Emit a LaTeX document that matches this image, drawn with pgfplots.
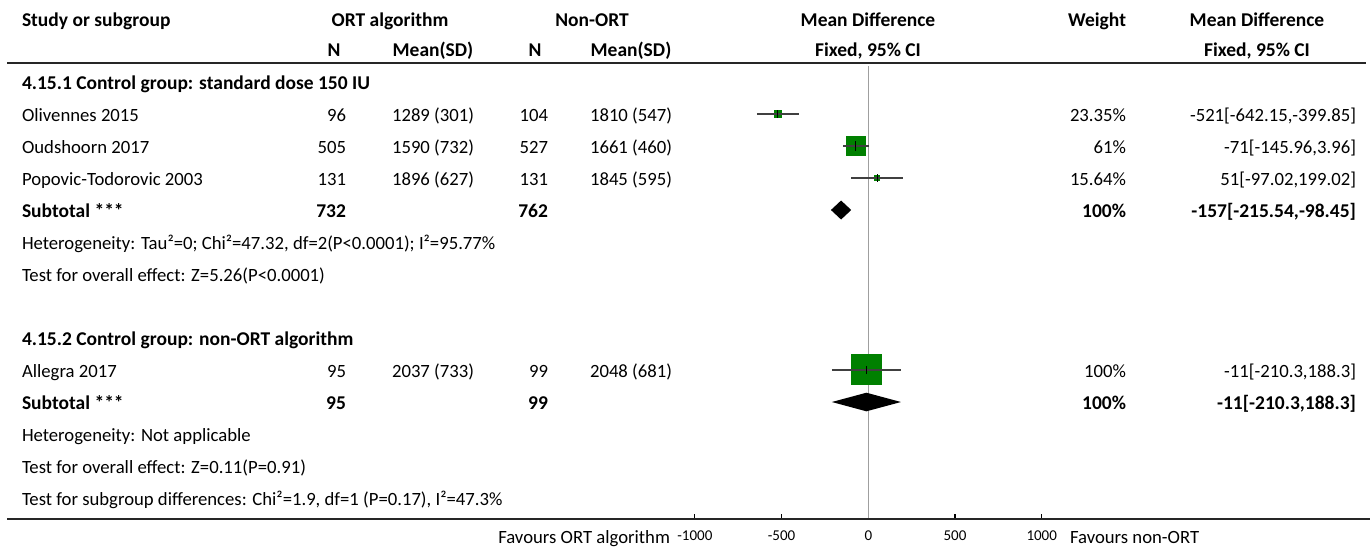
\documentclass[border=0pt]{standalone}
\usepackage{fontspec}
\setmainfont{Carlito}
\usepackage{pgfplots}
\pgfplotsset{compat=1.18}
\definecolor{sqgreen}{HTML}{008000}
\definecolor{cigray}{HTML}{404040}
\newcommand\rf{\fontsize{18.7pt}{22pt}\selectfont}
\newcommand\bx{\fontsize{19.5pt}{22pt}\selectfont\bfseries}
\newcommand\tf{\fontsize{15pt}{18pt}\selectfont}
\begin{document}
\begin{tikzpicture}
\path[use as bounding box, fill=white] (0pt,0pt) rectangle (1370pt,-550pt);
\begin{axis}[
  at={(694.9pt,-519pt)}, anchor=south west,
  scale only axis, width=346.8pt, height=453pt,
  xmin=-1000, xmax=1000, ymin=-519, ymax=-66,
  axis x line=bottom, axis y line=none,
  axis line style={-, line width=1.6pt, black},
  xtick={-1000,-500,0,500,1000},
  xticklabels={-1000,-500,0,500,1000},
  tick align=inside, major tick length=5pt,
  tick style={black, line width=1.1pt},
  xticklabel style={font=\tf, anchor=base, yshift=-21.7pt},
  clip=false,
]
% line of no effect
\addplot[gray!75, line width=1.1pt] coordinates {(0,-66) (0,-519)};
% study squares (side proportional to weight)
\addplot[fill=sqgreen, draw=none] coordinates {(-543.2,-110.15) (-498.8,-110.15) (-498.8,-117.85) (-543.2,-117.85)} -- cycle;
\addplot[fill=sqgreen, draw=none] coordinates {(-127.8,-136.15) (-14.2,-136.15) (-14.2,-155.85) (-127.8,-155.85)} -- cycle;
\addplot[fill=sqgreen, draw=none] coordinates {(33.7,-175) (68.3,-175) (68.3,-181) (33.7,-181)} -- cycle;
\addplot[fill=sqgreen, draw=none] coordinates {(-99.5,-354.15) (77.5,-354.15) (77.5,-384.85) (-99.5,-384.85)} -- cycle;
% confidence intervals
\addplot[cigray, line width=1.4pt] coordinates {(-642.15,-114) (-399.85,-114)};
\addplot[cigray, line width=1.4pt] coordinates {(-145.96,-146) (3.96,-146)};
\addplot[cigray, line width=1.4pt] coordinates {(-97.02,-178) (199.02,-178)};
\addplot[cigray, line width=1.4pt] coordinates {(-210.3,-370) (188.3,-370)};
% point estimate ticks
\addplot[black, line width=1pt] coordinates {(-521,-110) (-521,-118)};
\addplot[black, line width=1pt] coordinates {(-71,-141) (-71,-151)};
\addplot[black, line width=1pt] coordinates {(51,-174) (51,-182)};
\addplot[black, line width=1pt] coordinates {(-11,-366) (-11,-374)};
% pooled diamonds
\addplot[fill=black, draw=none] coordinates {(-215.54,-210) (-157,-200.5) (-98.45,-210) (-157,-219.5)} -- cycle;
\addplot[fill=black, draw=none] coordinates {(-210.3,-402) (-11,-392.7) (188.3,-402) (-11,-411.3)} -- cycle;
\end{axis}
\begin{scope}[x=1pt, y=-1pt, every node/.style={inner sep=0pt, outer sep=0pt, font=\rf}]
\draw[line width=2pt, black!85] (7,63) -- (1366,63);
\draw[line width=2pt, black!85] (7,519) -- (1370,519);
% header row 1
\node[anchor=base west] at (22,26.5) {\bx Study or subgroup};
\node[anchor=base] at (390,26.5) {\bx ORT algorithm};
\node[anchor=base] at (592,26.5) {\bx Non-ORT};
\node[anchor=base] at (868,26.5) {\bx Mean Difference};
\node[anchor=base east] at (1126,26.5) {\bx Weight};
\node[anchor=base] at (1257,26.5) {\bx Mean Difference};
% header row 2
\node[anchor=base] at (334,56.5) {\bx N};
\node[anchor=base] at (433,56.5) {\bx Mean(SD)};
\node[anchor=base] at (535,56.5) {\bx N};
\node[anchor=base] at (631,56.5) {\bx Mean(SD)};
\node[anchor=base] at (868,56.5) {\bx Fixed, 95\% CI};
\node[anchor=base] at (1257,56.5) {\bx Fixed, 95\% CI};
% subgroup 1
\node[anchor=base west] at (22,89) {\bx 4.15.1 Control group: standard dose 150 IU};
\node[anchor=base west] at (22,121) {Olivennes 2015};
\node[anchor=base east] at (346,121) {96};
\node[anchor=base] at (433,121) {1289 (301)};
\node[anchor=base east] at (548,121) {104};
\node[anchor=base] at (631,121) {1810 (547)};
\node[anchor=base east] at (1126,121) {23.35\%};
\node[anchor=base east] at (1356,121) {-521[-642.15,-399.85]};
\node[anchor=base west] at (22,153) {Oudshoorn 2017};
\node[anchor=base east] at (346,153) {505};
\node[anchor=base] at (433,153) {1590 (732)};
\node[anchor=base east] at (548,153) {527};
\node[anchor=base] at (631,153) {1661 (460)};
\node[anchor=base east] at (1126,153) {61\%};
\node[anchor=base east] at (1356,153) {-71[-145.96,3.96]};
\node[anchor=base west] at (22,185) {Popovic-Todorovic 2003};
\node[anchor=base east] at (346,185) {131};
\node[anchor=base] at (433,185) {1896 (627)};
\node[anchor=base east] at (548,185) {131};
\node[anchor=base] at (631,185) {1845 (595)};
\node[anchor=base east] at (1126,185) {15.64\%};
\node[anchor=base east] at (1356,185) {51[-97.02,199.02]};
\node[anchor=base west] at (22,217) {\bx Subtotal ***};
\node[anchor=base east] at (346,217) {\bx 732};
\node[anchor=base east] at (548,217) {\bx 762};
\node[anchor=base east] at (1126,217) {\bx 100\%};
\node[anchor=base east] at (1356,217) {\bx -157[-215.54,-98.45]};
\node[anchor=base west] at (22,249) {Heterogeneity: Tau²=0; Chi²=47.32, df=2(P<0.0001); I²=95.77\%};
\node[anchor=base west] at (22,281) {Test for overall effect: Z=5.26(P<0.0001)};
% subgroup 2
\node[anchor=base west] at (22,345) {\bx 4.15.2 Control group: non-ORT algorithm};
\node[anchor=base west] at (22,377) {Allegra 2017};
\node[anchor=base east] at (346,377) {95};
\node[anchor=base] at (433,377) {2037 (733)};
\node[anchor=base east] at (548,377) {99};
\node[anchor=base] at (631,377) {2048 (681)};
\node[anchor=base east] at (1126,377) {100\%};
\node[anchor=base east] at (1356,377) {-11[-210.3,188.3]};
\node[anchor=base west] at (22,409) {\bx Subtotal ***};
\node[anchor=base east] at (346,409) {\bx 95};
\node[anchor=base east] at (548,409) {\bx 99};
\node[anchor=base east] at (1126,409) {\bx 100\%};
\node[anchor=base east] at (1356,409) {\bx -11[-210.3,188.3]};
\node[anchor=base west] at (22,441) {Heterogeneity: Not applicable};
\node[anchor=base west] at (22,473) {Test for overall effect: Z=0.11(P=0.91)};
\node[anchor=base west] at (22,505) {Test for subgroup differences: Chi²=1.9, df=1 (P=0.17), I²=47.3\%};
% favours labels
\node[anchor=base east] at (670,543) {Favours ORT algorithm};
\node[anchor=base west] at (1070,543) {Favours non-ORT};
\end{scope}
\end{tikzpicture}
\end{document}
